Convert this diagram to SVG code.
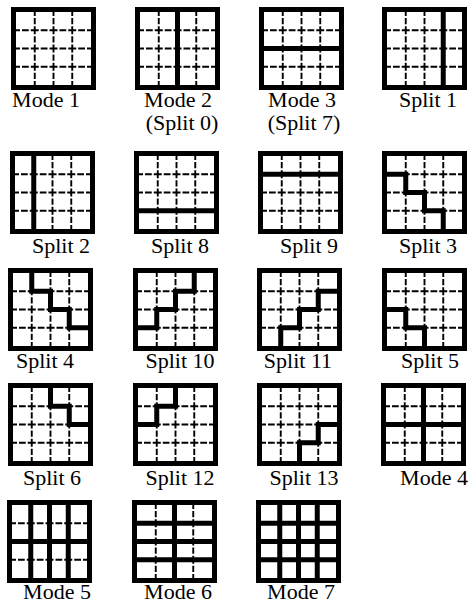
<svg xmlns="http://www.w3.org/2000/svg" xmlns:xlink="http://www.w3.org/1999/xlink" width="468" height="605" viewBox="0 0 468 605">
<style>
.lbl{font-family:"Liberation Serif","Times New Roman",serif;font-size:22px;fill:#000;text-anchor:middle}
.part{fill:none;stroke:#000;stroke-width:5;stroke-linejoin:miter;stroke-linecap:butt}
</style>
<defs>
<g id="grid">
<rect x="0" y="0" width="85" height="83" fill="#fff"/>
<g stroke="#000" stroke-width="1.9" fill="none">
<path d="M5 23.25H80M5 41.5H80M5 59.75H80" stroke-dasharray="8 2 6.75 2" stroke-dashoffset="4"/>
<path d="M23.75 5V78M42.5 5V78M61.25 5V78" stroke-dasharray="8 2 6.25 2" stroke-dashoffset="4"/>
</g>
<rect x="2.5" y="2.5" width="80" height="78" fill="none" stroke="#000" stroke-width="5"/>
</g>
</defs>
<g id="mode1" transform="translate(11,7)"><use xlink:href="#grid"/></g>
<g id="mode2" transform="translate(135,7)"><use xlink:href="#grid"/><path class="part" d="M42.5 5V78"/></g>
<g id="mode3" transform="translate(259,7)"><use xlink:href="#grid"/><path class="part" d="M5 41.5H80"/></g>
<g id="split1" transform="translate(382,7)"><use xlink:href="#grid"/><path class="part" d="M61.25 5V78"/></g>

<g id="split2" transform="translate(10,151)"><use xlink:href="#grid"/><path class="part" d="M23.75 5V78"/></g>
<g id="split8" transform="translate(134,151)"><use xlink:href="#grid"/><path class="part" d="M5 59.75H80"/></g>
<g id="split9" transform="translate(258,151)"><use xlink:href="#grid"/><path class="part" d="M5 23.25H80"/></g>
<g id="split3" transform="translate(382,151)"><use xlink:href="#grid"/><path class="part" d="M5 23.25H23.75V41.5H42.5V59.75H61.25V78"/></g>

<g id="split4" transform="translate(8,268)"><use xlink:href="#grid"/><path class="part" d="M23.75 5V23.25H42.5V41.5H61.25V59.75H80"/></g>
<g id="split10" transform="translate(133,268)"><use xlink:href="#grid"/><path class="part" d="M61.25 5V23.25H42.5V41.5H23.75V59.75H5"/></g>
<g id="split11" transform="translate(257,268)"><use xlink:href="#grid"/><path class="part" d="M80 23.25H61.25V41.5H42.5V59.75H23.75V78"/></g>
<g id="split5" transform="translate(382,268)"><use xlink:href="#grid"/><path class="part" d="M5 41.5H23.75V59.75H42.5V78"/></g>

<g id="split6" transform="translate(8,383)"><use xlink:href="#grid"/><path class="part" d="M42.5 5V23.25H61.25V41.5H80"/></g>
<g id="split12" transform="translate(133,383)"><use xlink:href="#grid"/><path class="part" d="M42.5 5V23.25H23.75V41.5H5"/></g>
<g id="split13" transform="translate(257,383)"><use xlink:href="#grid"/><path class="part" d="M80 41.5H61.25V59.75H42.5V78"/></g>
<g id="mode4" transform="translate(381,383)"><use xlink:href="#grid"/><path class="part" d="M42.5 5V78M5 41.5H80"/></g>

<g id="mode5" transform="translate(7,500)"><use xlink:href="#grid"/><path class="part" d="M23.75 5V78M42.5 5V78M61.25 5V78M5 41.5H80"/></g>
<g id="mode6" transform="translate(132,500)"><use xlink:href="#grid"/><path class="part" d="M5 23.25H80M5 41.5H80M5 59.75H80M42.5 5V78"/></g>
<g id="mode7" transform="translate(256,500)"><use xlink:href="#grid"/><path class="part" d="M23.75 5V78M42.5 5V78M61.25 5V78M5 23.25H80M5 41.5H80M5 59.75H80"/></g>

<g id="labels">
<text class="lbl" x="46" y="107">Mode 1</text>
<text class="lbl" x="178" y="107">Mode 2</text>
<text class="lbl" x="182" y="130">(Split 0)</text>
<text class="lbl" x="302" y="107">Mode 3</text>
<text class="lbl" x="304" y="130">(Split 7)</text>
<text class="lbl" x="428" y="107">Split 1</text>
<text class="lbl" x="61" y="253">Split 2</text>
<text class="lbl" x="180" y="253">Split 8</text>
<text class="lbl" x="309" y="253">Split 9</text>
<text class="lbl" x="428" y="253">Split 3</text>
<text class="lbl" x="45" y="368">Split 4</text>
<text class="lbl" x="180" y="368">Split 10</text>
<text class="lbl" x="298" y="368">Split 11</text>
<text class="lbl" x="430" y="368">Split 5</text>
<text class="lbl" x="52" y="485">Split 6</text>
<text class="lbl" x="180" y="485">Split 12</text>
<text class="lbl" x="304" y="485">Split 13</text>
<text class="lbl" x="434" y="485">Mode 4</text>
<text class="lbl" x="57" y="599">Mode 5</text>
<text class="lbl" x="178" y="599">Mode 6</text>
<text class="lbl" x="301" y="599">Mode 7</text>
</g>
</svg>
